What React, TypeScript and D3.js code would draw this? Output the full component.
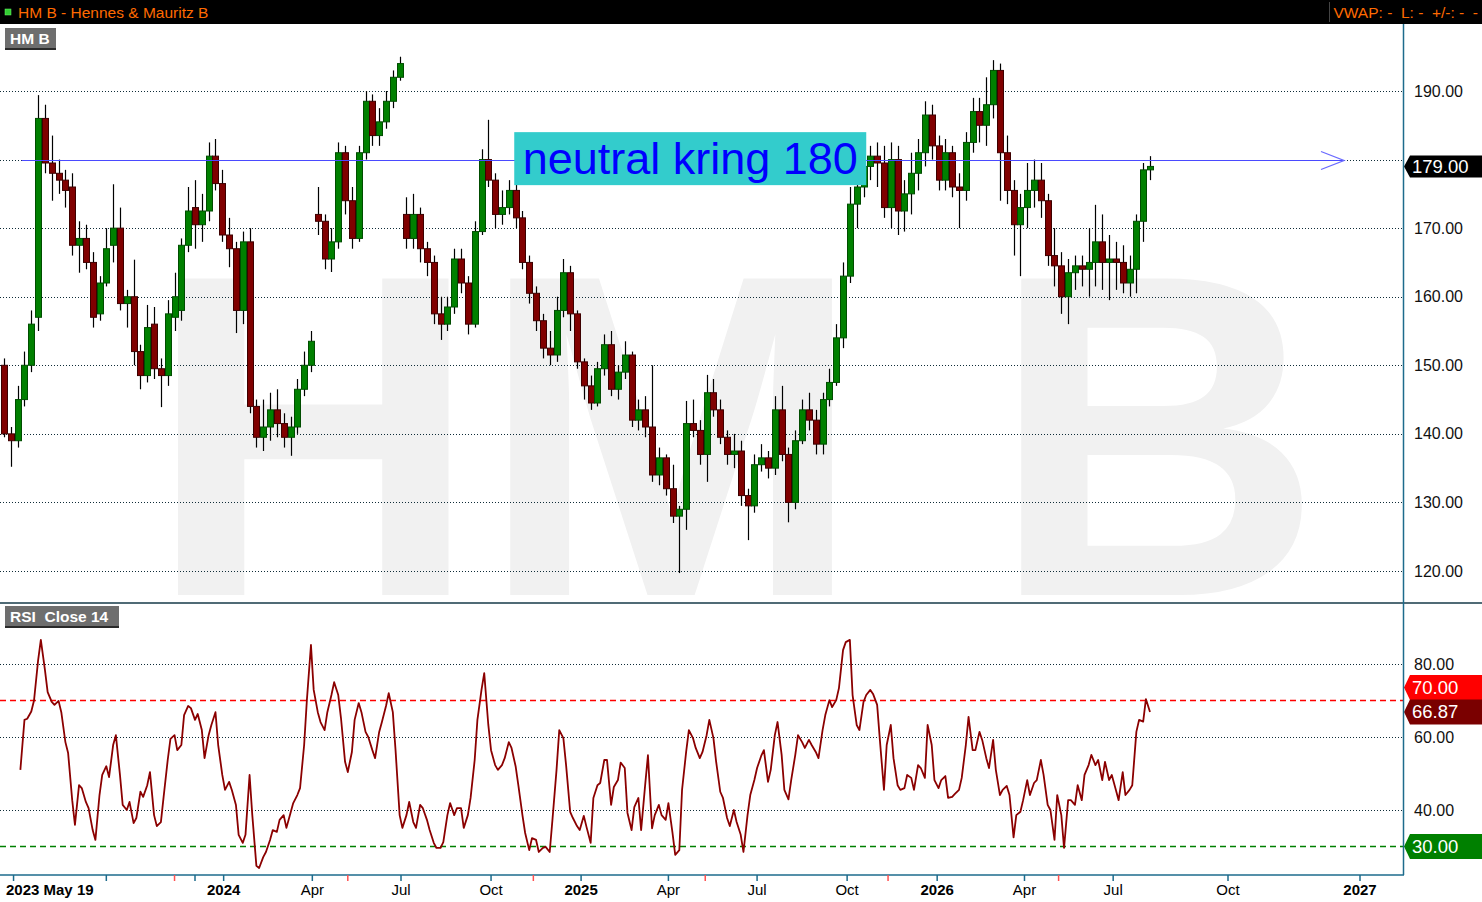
import { useMemo } from "react";
import * as d3 from "d3";

const W = 1482;
const H = 902;
const FONT = "'Liberation Sans', Arial, Helvetica, sans-serif";

// weekly bars, first one on this Friday
const startDate = "2023-05-19";

const opens = [
  150, 140, 139, 145, 150, 157, 186, 179.5, 178, 177, 176, 167.5, 168.5, 165, 157.5, 162, 167.5, 170, 159, 160,
  152, 148.5, 156, 149.5, 148.5, 157, 158, 167.5, 173, 170.5, 172.5, 180.5, 176.5, 169, 167, 158, 168, 144, 139.5, 141,
  143.5, 141.5, 139.5, 141, 146.5, 150, 172, 171, 165.5, 168, 181, 174, 168.5, 181, 188.5, 183.5, 185.5, 188.5, 192, 172,
  168.5, 172, 167, 165, 157.5, 156, 158.5, 165.5, 162, 156, 169.5, 180, 177, 172, 173, 175.5, 171.5, 165, 160.5, 156.5,
  152.5, 151.5, 158, 163.5, 157.5, 150.5, 147, 144.5, 149.5, 153, 146.5, 149, 151.5, 142, 143.5, 141, 134, 136.5, 132, 128,
  129, 141.5, 140.5, 137, 146, 143.5, 139.5, 137, 137.5, 131, 129.5, 135.5, 136.5, 135, 143.5, 137, 130, 139, 143.5, 142,
  138.5, 145, 147.5, 154, 163, 173.5, 176, 179, 180.5, 179.5, 173, 180, 172.5, 175, 178, 181, 186.5, 182, 177, 181,
  176, 175.5, 182.5, 187, 185, 188, 193, 181, 175.5, 170.5, 173, 175.5, 177, 174, 166, 164.5, 160, 163.5, 164.5, 164,
  165, 168, 165, 165.5, 165, 162, 164, 171, 178.5,
];
const highs = [
  151, 141, 147, 152, 158, 189.4, 188, 183.5, 180, 178.5, 178, 171, 170.5, 166.5, 163, 170, 176.4, 173, 161, 165.4,
  153, 158.8, 158.5, 151, 159.5, 163.5, 168.5, 176, 177, 175, 182.5, 183, 178.5, 171.5, 168, 169.5, 170, 145, 145, 146,
  146.5, 143, 142.5, 148, 152, 155, 176, 172, 170, 182.5, 182, 176, 182, 190, 189.5, 187.5, 190, 193, 195, 174.5,
  175, 173, 168, 166, 160, 160, 167, 167, 163, 171, 181.5, 185.8, 178, 175.5, 177, 176.5, 172.5, 166, 161.5, 157.5,
  155, 160, 165.5, 164.5, 158, 151, 148.5, 150.5, 154.5, 155, 150, 153.5, 152, 145, 145.5, 150, 138, 137, 135.5, 129.5,
  144.8, 145, 142, 148.6, 148, 145, 140.5, 140, 139, 132, 137, 138.5, 137.5, 145.5, 147, 138, 140.5, 145, 146, 143.5,
  146, 149.5, 156, 165, 176, 178.5, 181, 182, 182.5, 182, 182.5, 182, 177, 181, 183, 188.5, 188, 183.5, 183, 182,
  178, 184, 189, 189, 192, 194.5, 194, 183.5, 177, 175, 179.5, 180, 179.5, 175, 170, 166.5, 165.5, 166, 166, 170,
  173.4, 172, 169, 168, 167.5, 166, 172, 179.5, 180.5,
];
const lows = [
  139.5, 135.2, 138, 144, 149, 155, 178, 174, 175, 173, 166, 163.5, 164, 155.5, 156.5, 161.5, 165, 158, 155.5, 150,
  146.5, 147.5, 148, 143.9, 147, 155, 156.5, 166.5, 167, 168, 171, 175.5, 168, 164.3, 154.7, 156, 143, 138, 137.5, 139,
  139.5, 138, 136.8, 140, 145.5, 149, 169, 164, 163.6, 167, 172, 167, 168, 180, 182, 182, 184.5, 187.5, 191.5, 167,
  167, 165, 163, 156, 153.7, 155, 157.5, 160.5, 154.5, 155.5, 169, 176, 170, 170.5, 172, 170, 164, 159, 155, 151,
  150, 150.5, 157, 155, 149.5, 145, 143.5, 144, 148.5, 145.5, 145, 148, 141, 140.5, 139.5, 133, 132.5, 131, 127, 119.7,
  126, 139.5, 135.5, 133, 142.5, 138.5, 135.5, 135, 129.5, 124.5, 128.5, 134.5, 133.5, 134, 136, 127.1, 129, 138.5, 140.5, 137,
  137, 144, 147, 152.5, 162, 170, 174.5, 177, 176, 171.5, 170, 169, 169.5, 172, 175.5, 179, 180, 175.5, 175.5, 174.5,
  170, 174, 181, 182.5, 182, 186, 174, 173.5, 166, 163, 170, 173, 171.5, 164.5, 161.5, 157.5, 156, 161, 161.5, 160,
  161.5, 161, 159.5, 161, 160.5, 160, 160.5, 168, 177,
];
const closes = [
  140, 139, 145, 150, 156, 186, 179.5, 178, 177, 175.5, 167.5, 168.5, 165, 157, 162, 167, 170, 159, 160, 152,
  148.5, 155.5, 149.5, 148.5, 157.5, 160, 167.5, 172.5, 170.5, 172.5, 180.5, 176.5, 169, 167, 158, 168, 144, 139.5, 141, 143.5,
  141.5, 139.5, 141, 146.5, 150, 153.5, 171, 165.5, 168, 181, 174, 168.5, 181, 188.5, 183.5, 185.5, 188.5, 192, 194, 168.5,
  172, 167, 165, 157.5, 156, 158.5, 165.5, 162, 156, 169.5, 180, 177, 172, 173, 175.5, 171.5, 165, 160.5, 156.5, 152.5,
  151.5, 158, 163.5, 157.5, 150.5, 147, 144.5, 149.5, 153, 146.5, 149, 151.5, 142, 143.5, 141, 134, 136.5, 132, 128, 129,
  141.5, 140.5, 137, 146, 143.5, 139.5, 137, 137.5, 131, 129.5, 135.5, 136.5, 135, 143.5, 137, 130, 139, 143.5, 142, 138.5,
  145, 147.5, 154, 163, 173.5, 176, 179, 180.5, 179.5, 173, 180, 172.5, 175, 178, 181, 186.5, 182, 177, 181, 176,
  175.5, 182.5, 187, 185, 188, 193, 181, 175.5, 170.5, 173, 175.5, 177, 174, 166, 164.5, 160, 163.5, 164.5, 164, 165,
  168, 165, 165.5, 165, 162, 164, 171, 178.5, 179,
];

// RSI(14) read twice a week (Tuesday, Friday), starting in the 4th week
const rsiFirstWeek = 3;
const rsiValues = [
  51, 64.7, 65, 67, 70, 81, 86.6, 78.4, 72.3, 69.6, 68.8, 69.9, 66.8, 58.6, 55.6, 42.7, 35.9, 46.8, 46, 42.2,
  40.5, 34.5, 31.8, 44.1, 49.6, 52, 49, 57.8, 60.5, 49.6, 41.4, 40, 42.2, 36.4, 37.8, 45, 43.6, 46.8, 50.4, 38.6,
  35.6, 36.7, 43.6, 53.7, 59.5, 60.5, 56.4, 57.8, 66, 68.5, 67.9, 64.7, 66.3, 61.9, 54.2, 60.5, 63.3, 66.8, 57.8, 49.6,
  45.5, 47.7, 45.5, 41.4, 33.2, 31, 33.2, 49.6, 38.6, 24.7, 24.1, 27.1, 28.5, 31.8, 34.5, 34, 37.3, 38.6, 35.1, 39.2,
  41.9, 44.1, 46, 57.8, 70.1, 85.2, 72.9, 66.8, 64.1, 61.9, 66.8, 71.5, 75, 71.5, 65.2, 53.2, 50.4, 55.9, 64.7, 69.3,
  66.8, 61.4, 60, 56.4, 54.2, 61.4, 64.1, 68.5, 72, 66.8, 56.4, 38.6, 35.1, 38.6, 42.2, 36.7, 35.1, 41.4, 40.5, 37.3,
  34.5, 31, 29.6, 29.6, 31.2, 38.6, 41.9, 38.6, 40.5, 40.5, 35.1, 38.6, 43.3, 53.7, 64.7, 72.9, 77.5, 63.3, 56.4, 52.3,
  51, 52.3, 54.2, 58.6, 57, 52, 46.8, 38.6, 33.7, 29, 32.3, 31.8, 28.5, 29.6, 29.9, 28.5, 37.3, 51, 61.9, 59.7,
  52.3, 39.5, 37.8, 35.6, 34.5, 38.4, 35.3, 31, 43.3, 46.8, 47.4, 53.7, 53.7, 41.4, 46.3, 48.2, 53, 51.5, 39.2, 34.5,
  40.8, 43.3, 34.5, 47, 55, 35, 38.6, 41.4, 38.6, 37.3, 41.9, 33.7, 27.7, 29, 45.5, 55.9, 61.9, 59.7, 57, 54.2,
  55.9, 60.5, 64.7, 59.7, 53.2, 45, 43.3, 37.8, 35.6, 40, 36.7, 33.2, 28.5, 38.6, 44.1, 48.2, 51.5, 54.8, 56.4, 47.7,
  51, 60.5, 64.1, 55.1, 45.5, 42.9, 48.2, 55.1, 60.5, 58.6, 57, 59.2, 57.8, 55.9, 54.2, 61.9, 66, 70.1, 68.2, 70.1,
  73.4, 83.8, 86, 86.6, 71.5, 63.3, 61.9, 69.6, 71.5, 72.9, 71.8, 68.8, 59.2, 45.5, 57.8, 63.3, 54.2, 46.8, 45.5, 46,
  49.6, 48.8, 45.5, 52.3, 51.5, 48.8, 63.3, 57.8, 48.2, 46, 48.2, 49.3, 43.3, 43.6, 44.4, 45.5, 48.8, 57.8, 65.5, 56.4,
  56.4, 61.4, 59.2, 54.2, 51.5, 59.2, 51, 44.1, 45.5, 46.6, 44.1, 32.5, 38.6, 39.5, 42.7, 48.2, 44.1, 47.4, 48.2, 53.7,
  49.6, 41.4, 40, 31.8, 44.1, 38.6, 29.6, 42.7, 42.7, 41.4, 46.8, 42.7, 49.6, 52.3, 55.1, 52.3, 53.7, 48.2, 53.2, 48.2,
  49.6, 45.5, 42.7, 50.4, 44.1, 45.5, 46.8, 61.4, 64.7, 64.2, 70.4, 66.87,
];

const priceTicks = [120, 130, 140, 150, 160, 170, 180, 190];
const rsiTicks = [40, 60, 80];
const rsiUpper = 70;
const rsiLower = 30;
const lastPrice = 179;
const lastRsi = 66.87;

const axisTicks = [
  { date: "2023-05-30", label: "2023 May 19", bold: true, start: true },
  { date: "2023-09-01", label: "" },
  { date: "2023-12-01", label: "" },
  { date: "2024-01-01", label: "2024", bold: true },
  { date: "2024-04-01", label: "Apr" },
  { date: "2024-07-01", label: "Jul" },
  { date: "2024-10-01", label: "Oct" },
  { date: "2025-01-01", label: "2025", bold: true },
  { date: "2025-04-01", label: "Apr" },
  { date: "2025-07-01", label: "Jul" },
  { date: "2025-10-01", label: "Oct" },
  { date: "2026-01-01", label: "2026", bold: true },
  { date: "2026-04-01", label: "Apr" },
  { date: "2026-07-01", label: "Jul" },
  { date: "2026-10-01", label: "Oct" },
  { date: "2027-01-01", label: "2027", bold: true },
];
const dividendDates = ["2023-11-10", "2024-05-07", "2024-11-13", "2025-05-08", "2025-11-12", "2026-05-06"];

const neutralLevel = 180;
const neutralFrom = "2023-06-07";
const neutralTo = "2026-12-22";
const noteText = "neutral kring 180";
const noteDate = "2024-10-24";
const noteTop = 184;

const DAY = 86400000;
const parse = (s: string) => new Date(s + "T00:00:00Z");
const START = parse(startDate);

// trading-day (Mon-Fri) index from the first bar
function bdIndex(d: Date) {
  const days = Math.round((d.getTime() - START.getTime()) / DAY);
  let dow = START.getUTCDay();
  let n = 0;
  for (let i = 1; i <= days; i++) {
    dow = (dow + 1) % 7;
    if (dow !== 0 && dow !== 6) n++;
  }
  return n;
}
const addDays = (d: Date, n: number) => new Date(d.getTime() + n * DAY);
const crisp = (v: number) => Math.round(v) + 0.5;

const PLOT_R = 1403;
const MAIN_TOP = 24;
const MAIN_BOT = 602;
const RSI_TOP = 604;
const RSI_BOT = 875;
const AXIS_COLOR = "#1d6b8c";
const GRID_COLOR = "#0f2c38";

function Tag({ y, text, fill, h }: { y: number; text: string; fill: string; h: number }) {
  const x0 = PLOT_R + 1;
  const pts = [
    [x0, y],
    [x0 + 6, y - h / 2],
    [W, y - h / 2],
    [W, y + h / 2],
    [x0 + 6, y + h / 2],
  ]
    .map((p) => p.join(","))
    .join(" ");
  return (
    <g>
      <polygon points={pts} fill={fill} />
      <text x={x0 + 8} y={y + 6.5} fontSize={18.5} fill="#fff" fontFamily={FONT}>
        {text}
      </text>
    </g>
  );
}

export default function App() {
  const bars = useMemo(
    () =>
      closes.map((c, i) => ({
        date: addDays(START, 7 * i),
        open: opens[i],
        high: highs[i],
        low: lows[i],
        close: c,
      })),
    [],
  );

  const rsiPts = useMemo(
    () =>
      rsiValues.map((v, j) => {
        const week = rsiFirstWeek + Math.floor(j / 2);
        const date = addDays(START, 7 * week - (j % 2 === 0 ? 3 : 0));
        return { date, value: v };
      }),
    [],
  );

  const lastIdx = bdIndex(bars[bars.length - 1].date);
  const x = d3
    .scaleLinear()
    .domain([0, lastIdx, bdIndex(parse("2027-01-01"))])
    .range([4, 1150, 1360]);
  const xd = (d: Date) => x(bdIndex(d));
  const y = d3.scaleLinear().domain([120, 190]).range([571, 91]);
  const yr = d3.scaleLinear().domain([40, 80]).range([810, 664]);

  const rsiLine = d3
    .line<{ date: Date; value: number }>()
    .x((d) => xd(d.date))
    .y((d) => yr(d.value));

  const fmt = d3.format(".2f");
  const bodyW = 6;

  const priceTagY = y(lastPrice);
  const rsiLastY = yr(lastRsi);
  const rsiUpperTagY = Math.min(yr(rsiUpper), rsiLastY - 24.5);

  const nx0 = xd(parse(neutralFrom));
  const nx1 = xd(parse(neutralTo));
  const ny = crisp(y(neutralLevel));
  const noteX = xd(parse(noteDate));
  const noteY = y(noteTop);

  return (
    <div style={{ position: "absolute", left: 0, top: 0 }}>
      <svg width={W} height={H} style={{ display: "block", background: "#fff" }} fontFamily={FONT}>
        <defs>
          <clipPath id="clipMain">
            <rect x={0} y={MAIN_TOP} width={PLOT_R} height={MAIN_BOT - MAIN_TOP} />
          </clipPath>
          <clipPath id="clipRsi">
            <rect x={0} y={RSI_TOP} width={PLOT_R} height={RSI_BOT - RSI_TOP} />
          </clipPath>
        </defs>

        {/* header bar */}
        <rect x={0} y={0} width={W} height={24} fill="#000" />
        <rect x={5} y={9} width={6} height={6} fill="#3c3" stroke="#6f6" strokeWidth={0.5} />
        <text x={18} y={18} fontSize={15.5} fill="#ff6a00">
          HM B - Hennes &amp; Mauritz B
        </text>
        <line x1={1329.5} x2={1329.5} y1={2} y2={22} stroke="#444" />
        <text x={1478} y={18} fontSize={15.5} fill="#ff6a00" textAnchor="end" style={{ whiteSpace: "pre" }}>
          {"VWAP: -  L: -  +/-: -  -"}
        </text>

        {/* main pane */}
        <g clipPath="url(#clipMain)">
          <text x={735} y={595} textAnchor="middle" fontSize={460} fontWeight="bold" fill="#f1f1f1">
            HM B
          </text>
          {priceTicks.map((t) => (
            <line key={t} x1={0} x2={PLOT_R} y1={crisp(y(t))} y2={crisp(y(t))} stroke={GRID_COLOR} strokeDasharray="1,2" />
          ))}
          {bars.map((b, i) => {
            const cx = Math.round(xd(b.date)) + 0.5;
            const up = b.close >= b.open;
            const top = y(Math.max(b.open, b.close));
            const bot = y(Math.min(b.open, b.close));
            return (
              <g key={i}>
                <line x1={cx} x2={cx} y1={y(b.high)} y2={y(b.low)} stroke="#000" strokeWidth={1.2} />
                <rect
                  x={cx - bodyW / 2}
                  y={top}
                  width={bodyW}
                  height={Math.max(1, bot - top)}
                  fill={up ? "#008000" : "#800000"}
                  stroke={up ? "#004d00" : "#3d0000"}
                  strokeWidth={1}
                />
              </g>
            );
          })}
          <line x1={nx0} x2={nx1} y1={ny} y2={ny} stroke="#4a4aff" strokeWidth={1} />
          <polyline
            points={`${nx1 - 23},${ny - 9} ${nx1},${ny} ${nx1 - 23},${ny + 9}`}
            fill="none"
            stroke="#6a6aff"
            strokeWidth={1.3}
          />
          <rect x={noteX} y={noteY} width={352} height={53} fill="#33cccc" />
          <text x={noteX + 176} y={noteY + 42} textAnchor="middle" fontSize={45} fill="#0000ff">
            {noteText}
          </text>
        </g>

        <rect x={5} y={28} width={51} height={21} fill="#6e6e6e" />
        <line x1={5} x2={56} y1={49} y2={49} stroke="#2a2a2a" strokeWidth={2} />
        <text x={10} y={44} fontSize={15.5} fontWeight="bold" fill="#fff">
          HM B
        </text>

        {/* price axis: a label hidden under the last-price tag is not drawn */}
        {priceTicks
          .filter((t) => Math.abs(y(t) - priceTagY) > 16)
          .map((t) => (
            <text key={t} x={1414} y={y(t) + 5.5} fontSize={16} fill="#111">
              {fmt(t)}
            </text>
          ))}
        <Tag y={priceTagY} text={fmt(lastPrice)} fill="#000" h={22} />

        {/* separator */}
        <line x1={0} x2={W} y1={603} y2={603} stroke="#163a48" strokeWidth={1.5} />

        {/* RSI pane */}
        <g clipPath="url(#clipRsi)">
          {rsiTicks.map((t) => (
            <line key={t} x1={0} x2={PLOT_R} y1={crisp(yr(t))} y2={crisp(yr(t))} stroke={GRID_COLOR} strokeDasharray="1,2" />
          ))}
          <line x1={0} x2={PLOT_R} y1={yr(rsiUpper)} y2={yr(rsiUpper)} stroke="#ff0000" strokeWidth={1.5} strokeDasharray="6,4" />
          <line x1={0} x2={PLOT_R} y1={yr(rsiLower)} y2={yr(rsiLower)} stroke="#008000" strokeWidth={1.5} strokeDasharray="6,4" />
          <path d={rsiLine(rsiPts) ?? undefined} fill="none" stroke="#8b0000" strokeWidth={1.8} strokeLinejoin="round" />
        </g>
        <rect x={5} y={606} width={114} height={21} fill="#6e6e6e" />
        <line x1={5} x2={119} y1={627} y2={627} stroke="#2a2a2a" strokeWidth={2} />
        <text x={10} y={622} fontSize={15.5} fontWeight="bold" fill="#fff" style={{ whiteSpace: "pre" }}>
          {"RSI  Close 14"}
        </text>
        {rsiTicks.map((t) => (
          <text key={t} x={1414} y={yr(t) + 5.5} fontSize={16} fill="#111">
            {fmt(t)}
          </text>
        ))}
        <Tag y={rsiUpperTagY} text={fmt(rsiUpper)} fill="#ff0000" h={25} />
        <Tag y={rsiLastY} text={fmt(lastRsi)} fill="#7a0000" h={25} />
        <Tag y={yr(rsiLower)} text={fmt(rsiLower)} fill="#008000" h={25} />

        {/* right border + time axis */}
        <line x1={PLOT_R + 0.5} x2={PLOT_R + 0.5} y1={MAIN_TOP} y2={RSI_BOT} stroke={AXIS_COLOR} strokeWidth={1.5} />
        <line x1={0} x2={PLOT_R + 1} y1={RSI_BOT} y2={RSI_BOT} stroke={AXIS_COLOR} strokeWidth={1.5} />
        {dividendDates.map((d) => {
          const tx = xd(parse(d));
          return <line key={d} x1={tx} x2={tx} y1={RSI_BOT} y2={RSI_BOT + 6} stroke="#ff5050" strokeWidth={1.5} />;
        })}
        {axisTicks.map((t) => {
          const tx = xd(parse(t.date));
          return (
            <g key={t.date}>
              <line x1={tx} x2={tx} y1={RSI_BOT} y2={RSI_BOT + 6} stroke={AXIS_COLOR} strokeWidth={1.5} />
              {t.label && (
                <text
                  x={t.start ? xd(START) + 2 : tx}
                  y={895}
                  fontSize={15}
                  fontWeight={t.bold ? "bold" : "normal"}
                  textAnchor={t.start ? "start" : "middle"}
                  fill="#000"
                >
                  {t.label}
                </text>
              )}
            </g>
          );
        })}
      </svg>
    </div>
  );
}
